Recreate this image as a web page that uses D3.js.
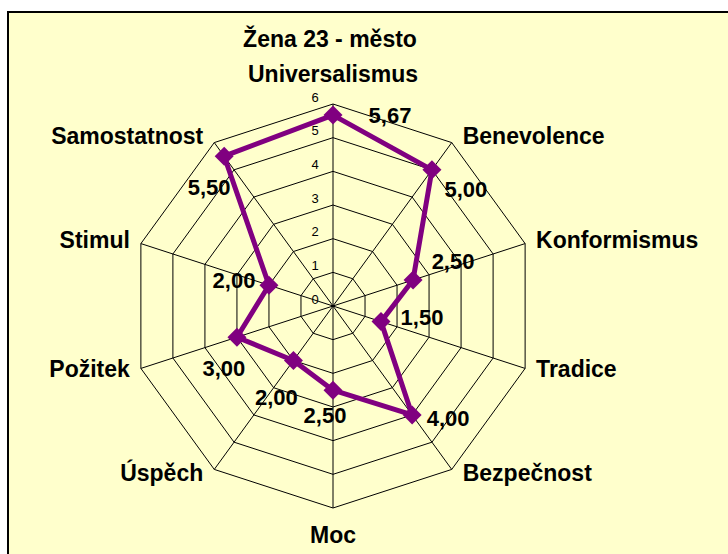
<!DOCTYPE html>
<html>
<head>
<meta charset="utf-8">
<script src="https://cdn.jsdelivr.net/npm/d3@7"></script>
<style>
  body { margin: 0; background: #fff; }
  text { font-family: Arial, "Liberation Sans", sans-serif; }
</style>
</head>
<body>
<div id="chart"></div>
<script>
// Hodnoty grafu
const title = "Žena 23 - město";
const categories = ["Universalismus", "Benevolence", "Konformismus", "Tradice", "Bezpečnost",
    "Moc", "Úspěch", "Požitek", "Stimul", "Samostatnost"];
const values = [5.67, 5.00, 2.50, 1.50, 4.00, 2.50, 2.00, 3.00, 2.00, 5.50];
const ticks = [0, 1, 2, 3, 4, 5, 6];

// posun popisků hodnot vůči bodu (jako v Excelu)
const labelNudge = [[57, 0], [34, 20], [40, -18], [41, -4], [36, 4],
    [-8, 25], [-17, 37], [-13, 31], [-35, -5], [-15, 31]];

const w = 728, h = 554;
const cx = 333, cy = 306, R = 202;

const svg = d3.select("#chart").append("svg")
    .attr("width", w)
    .attr("height", h);

// rámeček a pozadí
svg.append("rect")
    .attr("x", 8).attr("y", 12)
    .attr("width", 760).attr("height", 580)
    .attr("fill", "#FFFFCC")
    .attr("stroke", "#000")
    .attr("stroke-width", 2);

const r = d3.scaleLinear().domain([0, 6]).range([0, R]);
const angle = d3.scalePoint().domain(d3.range(categories.length))
    .range([0, 2 * Math.PI * (categories.length - 1) / categories.length]);

const px = (i, v) => cx + r(v) * Math.sin(angle(i));
const py = (i, v) => cy - r(v) * Math.cos(angle(i));

const g = svg.append("g");

// mřížka
ticks.slice(1).forEach(t => {
    g.append("polygon")
        .attr("points", categories.map((c, i) => [px(i, t), py(i, t)].join(",")).join(" "))
        .attr("fill", "none")
        .attr("stroke", "#000")
        .attr("stroke-width", 1);
});
categories.forEach((c, i) => {
    g.append("line")
        .attr("x1", cx).attr("y1", cy)
        .attr("x2", px(i, 6)).attr("y2", py(i, 6))
        .attr("stroke", "#000")
        .attr("stroke-width", 1);
});

// popisky osy
g.selectAll(".tick").data(ticks).enter().append("text")
    .attr("x", cx - 18)
    .attr("y", d => cy - r(d) - 7)
    .attr("text-anchor", "middle")
    .attr("dominant-baseline", "central")
    .style("font-size", "13px")
    .text(d => d);

// názvy kategorií
g.selectAll(".cat").data(categories).enter().append("text")
    .attr("x", (d, i) => {
        const s = Math.sin(angle(i));
        const vx = px(i, 6);
        return Math.abs(s) < 0.01 ? vx : vx + (s > 0 ? 11 : -11);
    })
    .attr("y", (d, i) => {
        const c = Math.cos(angle(i));
        const vy = py(i, 6);
        if (c > 0.99) return vy - 22;
        if (c < -0.99) return vy + 35;
        return vy + 6.5 - 6.5 * c;
    })
    .attr("text-anchor", (d, i) => {
        const s = Math.sin(angle(i));
        return Math.abs(s) < 0.01 ? "middle" : (s > 0 ? "start" : "end");
    })
    .style("font-size", "23px")
    .style("font-weight", "bold")
    .text(d => d);

// titulek
svg.append("text")
    .attr("x", 330)
    .attr("y", 47)
    .attr("text-anchor", "middle")
    .style("font-size", "23px")
    .style("font-weight", "bold")
    .text(title);

// datová řada
const line = d3.line()
    .x((d, i) => px(i, d))
    .y((d, i) => py(i, d))
    .curve(d3.curveLinearClosed);

g.append("path")
    .datum(values)
    .attr("d", line)
    .attr("fill", "none")
    .attr("stroke", "#800080")
    .attr("stroke-width", 5)
    .attr("stroke-linejoin", "round");

g.selectAll(".marker").data(values).enter().append("path")
    .attr("transform", (d, i) => `translate(${px(i, d)},${py(i, d)}) rotate(45)`)
    .attr("d", d3.symbol().type(d3.symbolSquare).size(180))
    .attr("fill", "#800080");

// popisky hodnot
const fmt = v => v.toFixed(2).replace(".", ",");
g.selectAll(".val").data(values).enter().append("text")
    .attr("x", (d, i) => px(i, d) + labelNudge[i][0])
    .attr("y", (d, i) => py(i, d) + labelNudge[i][1])
    .attr("text-anchor", "middle")
    .attr("dominant-baseline", "central")
    .style("font-size", "22px")
    .style("font-weight", "bold")
    .text(d => fmt(d));
</script>
</body>
</html>
